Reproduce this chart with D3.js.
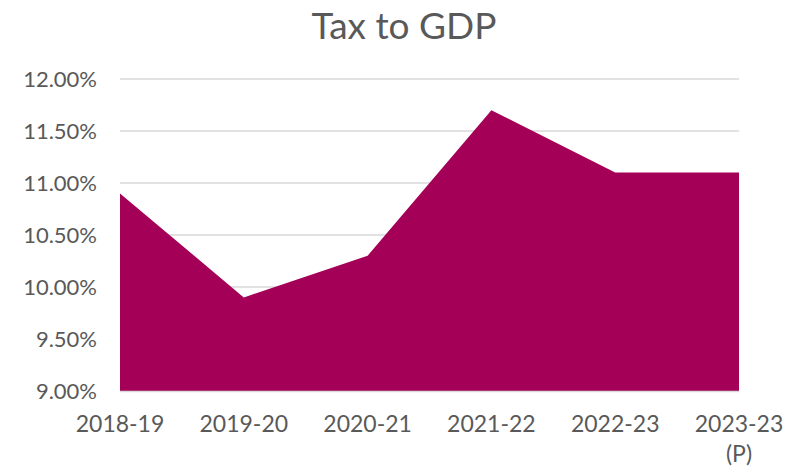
<!DOCTYPE html>
<meta charset="utf-8">
<style>
    body { margin: 0; padding: 0; background: #fff; }
    text { font-family: Lato, "Noto Sans", sans-serif; fill: #595959; }
</style>
<body>
<script src="https://d3js.org/d3.v7.min.js"></script>
<script>
    var years = ["2018-19", "2019-20", "2020-21", "2021-22", "2022-23", "2023-23 (P)"];
    var taxToGdp = [10.9, 9.9, 10.3, 11.7, 11.1, 11.1];
    var yTicks = [9.0, 9.5, 10.0, 10.5, 11.0, 11.5, 12.0];

    var width = 785, height = 466;
    var margin = {top: 79, right: 46, bottom: 75, left: 120};

    var svg = d3.select("body").append("svg")
        .attr("width", width)
        .attr("height", height);

    var x = d3.scalePoint()
        .domain(years)
        .range([margin.left, width - margin.right]);

    var y = d3.scaleLinear()
        .domain([9, 12])
        .range([height - margin.bottom, margin.top]);

    // title
    svg.append("text")
        .attr("x", 404)
        .attr("y", 39)
        .attr("text-anchor", "middle")
        .style("font-size", "37px")
        .text("Tax to GDP");

    // gridlines
    svg.append("g")
        .selectAll("line")
        .data(yTicks.slice(1))
        .enter().append("line")
        .attr("x1", margin.left)
        .attr("x2", width - margin.right)
        .attr("y1", function(d) { return y(d); })
        .attr("y2", function(d) { return y(d); })
        .style("stroke", "#d9d9d9")
        .style("stroke-width", 1.3);

    // area
    var area = d3.area()
        .x(function(d, i) { return x(years[i]); })
        .y0(y(9))
        .y1(function(d) { return y(d); });

    svg.append("path")
        .datum(taxToGdp)
        .attr("d", area)
        .style("fill", "#a50057");

    // baseline
    svg.append("line")
        .attr("x1", margin.left)
        .attr("x2", width - margin.right)
        .attr("y1", y(9) + 0.5)
        .attr("y2", y(9) + 0.5)
        .style("stroke", "#d9d9d9")
        .style("stroke-width", 1.3);

    // y labels
    svg.append("g")
        .selectAll("text")
        .data(yTicks)
        .enter().append("text")
        .attr("x", 97)
        .attr("y", function(d) { return y(d); })
        .attr("dy", "0.35em")
        .attr("text-anchor", "end")
        .style("font-size", "22px")
        .text(function(d) { return d.toFixed(2) + "%"; });

    // x labels
    var xl = svg.append("g")
        .selectAll("text")
        .data(years)
        .enter().append("text")
        .attr("x", function(d) { return x(d); })
        .attr("y", 432)
        .attr("text-anchor", "middle")
        .style("font-size", "23px");

    xl.each(function(d) {
        var parts = d.split(" ");
        var t = d3.select(this);
        parts.forEach(function(p, i) {
            t.append("tspan")
                .attr("x", x(d))
                .attr("dy", i === 0 ? 0 : 30)
                .text(p);
        });
    });
</script>
</body>
</html>
